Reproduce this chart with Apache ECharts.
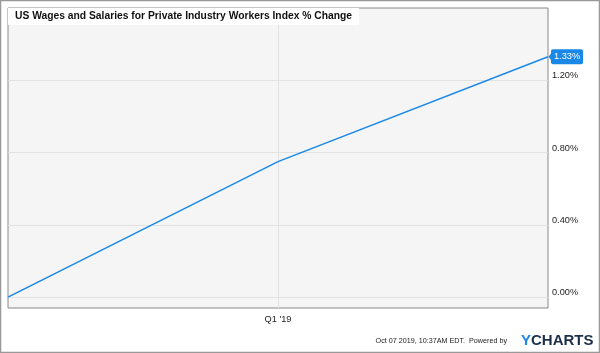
<!DOCTYPE html>
<html>
<head>
<meta charset="utf-8">
<script src="https://cdn.jsdelivr.net/npm/echarts@6/dist/echarts.min.js"></script>
<style>
  html, body { margin: 0; padding: 0; background: #fff; }
  #chart { width: 600px; height: 353px; }
</style>
</head>
<body>
<div id="chart"></div>
<script>
// data
const quarters = ["Q3 '18", "Q1 '19", "Q3 '19"];
const pctChange = [0.0, 0.75, 1.33];
const yTicks = [0, 0.4, 0.8, 1.2];

const lineColor = "#1a88e6";
const font = "Arial, 'Liberation Sans', sans-serif";

const chart = echarts.init(document.getElementById("chart"));

chart.setOption({
    animation: false,
    textStyle: { fontFamily: font },
    title: {
        text: "US Wages and Salaries for Private Industry Workers Index % Change",
        left: 8,
        top: 8,
        padding: [3, 7, 3, 7],
        backgroundColor: "#fff",
        textStyle: { fontSize: 10.3, fontWeight: "bold", color: "#111", lineHeight: 11 },
    },
    grid: {
        left: 8,
        top: 8,
        right: 52,
        bottom: 45,
        show: true,
        backgroundColor: "#f5f5f5",
        borderColor: "#888",
        borderWidth: 1,
    },
    xAxis: {
        type: "category",
        data: quarters,
        boundaryGap: false,
        axisLine: { show: false },
        axisTick: { show: false },
        axisLabel: {
            interval: (i) => i === 1,
            color: "#222",
            fontSize: 9.2,
            margin: 7,
        },
        splitLine: {
            show: true,
            interval: (i) => i === 1,
            lineStyle: { color: "#e2e2e2" },
        },
    },
    yAxis: {
        type: "value",
        position: "right",
        min: -0.06,
        max: 1.6,
        axisLine: { show: false },
        axisTick: { show: false, customValues: yTicks },
        axisLabel: {
            customValues: yTicks,
            formatter: (v) => v.toFixed(2) + "%",
            color: "#222",
            fontSize: 9.2,
            margin: 4,
            verticalAlign: "bottom",
            lineHeight: 9,
        },
        splitLine: { show: true, lineStyle: { color: "#e2e2e2" } },
    },
    series: [
        {
            type: "line",
            data: pctChange,
            symbol: "none",
            lineStyle: { color: lineColor, width: 1.5 },
            endLabel: {
                show: true,
                formatter: (p) => p.value.toFixed(2) + "%",
                backgroundColor: lineColor,
                color: "#fff",
                fontSize: 9.2,
                padding: [3, 3, 3, 3],
                borderRadius: 2,
                distance: 3,
            },
            markPoint: {
                silent: true,
                data: [{ coord: [2, pctChange[2]] }],
                symbol: "triangle",
                symbolSize: [13, 5],
                symbolRotate: 90,
                symbolOffset: [3, 0],
                itemStyle: { color: lineColor },
                label: { show: false },
            },
        },
    ],
    graphic: [
        {
            type: "rect",
            shape: { x: 0.5, y: 0.5, width: 599, height: 352 },
            style: { fill: "none", stroke: "#999", lineWidth: 1.5 },
        },
        {
            type: "text",
            right: 93,
            top: 338,
            style: {
                text: "Oct 07 2019, 10:37AM EDT.  Powered by",
                fontSize: 7.2,
                fill: "#222",
                fontFamily: font,
            },
        },
        {
            type: "text",
            left: 521,
            top: 333,
            style: {
                text: "{y|Y}{c|CHARTS}",
                rich: {
                    y: { fill: "#1a88e6", fontSize: 15, fontWeight: 900 },
                    c: { fill: "#1c2e4a", fontSize: 15, fontWeight: 900 },
                },
                fontFamily: font,
            },
        },
    ],
});
</script>
</body>
</html>
